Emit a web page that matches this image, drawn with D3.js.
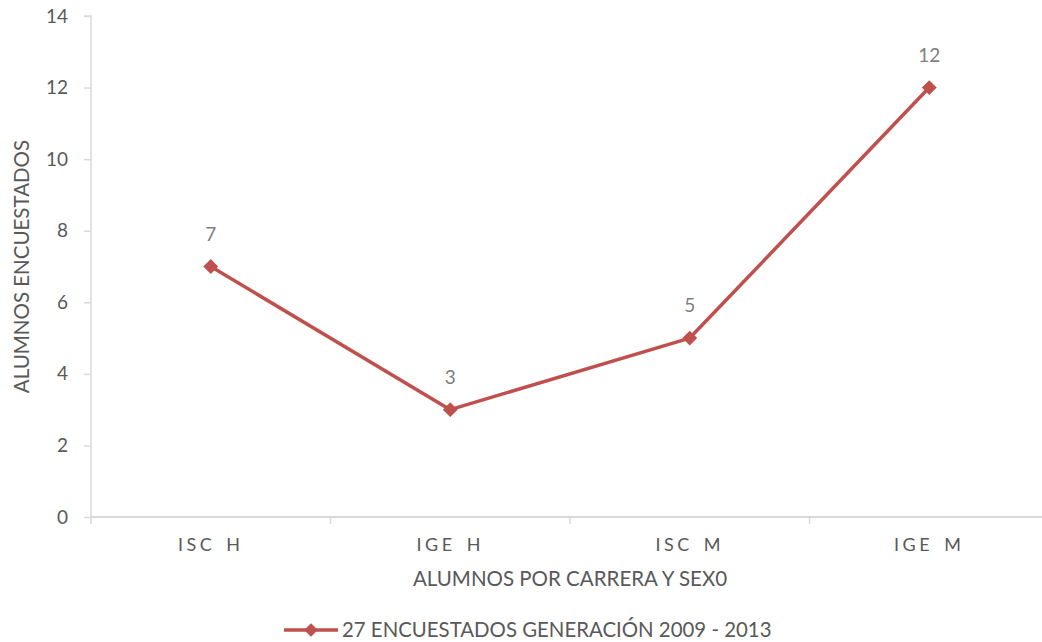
<!DOCTYPE html>
<html><head><meta charset="utf-8">
<script src="https://cdn.jsdelivr.net/npm/d3@7"></script>
<style>body{margin:0;background:#fff}svg{display:block}text{font-family:Lato,"Open Sans",sans-serif}</style>
</head><body><svg id="c" width="1042" height="642"></svg>
<script>
const categories = ["ISC H", "IGE H", "ISC M", "IGE M"];
const values = [7, 3, 5, 12];
const yTicks = [0, 2, 4, 6, 8, 10, 12, 14];
const seriesName = "27 ENCUESTADOS GENERACIÓN 2009 - 2013";
const xTitle = "ALUMNOS POR CARRERA Y SEX0";
const yTitle = "ALUMNOS ENCUESTADOS";

(function () {
const svg = d3.select("#c");
const pLeft = 91, pRight = 1049, pTop = 16, pBottom = 517;
const x = d3.scaleBand().domain(categories).range([pLeft, pRight]);
const y = d3.scaleLinear().domain([0, 14]).range([pBottom, pTop]);
const axisColor = "#d9d9d9", textColor = "#595959", red = "#c0504d";

// y axis
const ya = svg.append("g").attr("transform", `translate(${pLeft},0)`)
  .call(d3.axisLeft(y).tickValues(yTicks).tickSize(7).tickPadding(16));
ya.select(".domain").attr("stroke", axisColor).attr("stroke-width", 1.5).attr("d", `M-7,${pTop}H0V${pBottom}`);
ya.selectAll(".tick line").attr("stroke", axisColor).attr("stroke-width", 1.5);
ya.selectAll(".tick text").attr("fill", textColor).style("font-size", "19px");

// x axis
const xa = svg.append("g").attr("transform", `translate(0,${pBottom})`)
  .call(d3.axisBottom(x).tickSize(0).tickPadding(21));
xa.select(".domain").attr("stroke", axisColor).attr("stroke-width", 2).attr("d", `M${pLeft},0H${pRight}`);
xa.selectAll(".tick text").attr("fill", textColor).style("font-size", "18px")
  .style("letter-spacing", "3.5px").style("word-spacing", "3px").style("white-space", "pre").attr("dy", "0.71em");
const bounds = [...categories.map(c => x(c)), pRight];
svg.append("g").selectAll("line").data(bounds).join("line")
  .attr("x1", d => d).attr("x2", d => d).attr("y1", pBottom).attr("y2", pBottom + 7)
  .attr("stroke", axisColor).attr("stroke-width", 1.5);

// titles
svg.append("text").attr("x", (pLeft + pRight) / 2).attr("y", 586).attr("text-anchor", "middle")
  .attr("fill", textColor).style("font-size", "20.5px").text(xTitle);
svg.append("text").attr("transform", `translate(29,${(pTop + pBottom) / 2}) rotate(-90)`)
  .attr("text-anchor", "middle").attr("fill", textColor).style("font-size", "20.5px").text(yTitle);

// line
const cx = d => x(d) + x.bandwidth() / 2;
const line = d3.line().x((d, i) => cx(categories[i])).y(d => y(d));
svg.append("path").datum(values).attr("d", line).attr("fill", "none")
  .attr("stroke", red).attr("stroke-width", 3.5).attr("stroke-linejoin", "round");
svg.append("g").selectAll("path").data(values).join("path")
  .attr("transform", (d, i) => `translate(${cx(categories[i])},${y(d)}) rotate(45)`)
  .attr("d", d3.symbol().type(d3.symbolSquare).size(110)).attr("fill", red);
svg.append("g").selectAll("text").data(values).join("text")
  .attr("x", (d, i) => cx(categories[i])).attr("y", d => y(d) - 26)
  .attr("text-anchor", "middle").attr("fill", "#7f7f7f").style("font-size", "19px").text(d => d);

// legend
const ly = 630;
svg.append("line").attr("x1", 284).attr("x2", 338).attr("y1", ly).attr("y2", ly)
  .attr("stroke", red).attr("stroke-width", 3.5);
svg.append("path").attr("transform", `translate(311,${ly}) rotate(45)`)
  .attr("d", d3.symbol().type(d3.symbolSquare).size(90)).attr("fill", red);
svg.append("text").attr("x", 342).attr("y", ly + 7).attr("fill", textColor)
  .style("font-size", "20.4px").text(seriesName);
})();
</script></body></html>
